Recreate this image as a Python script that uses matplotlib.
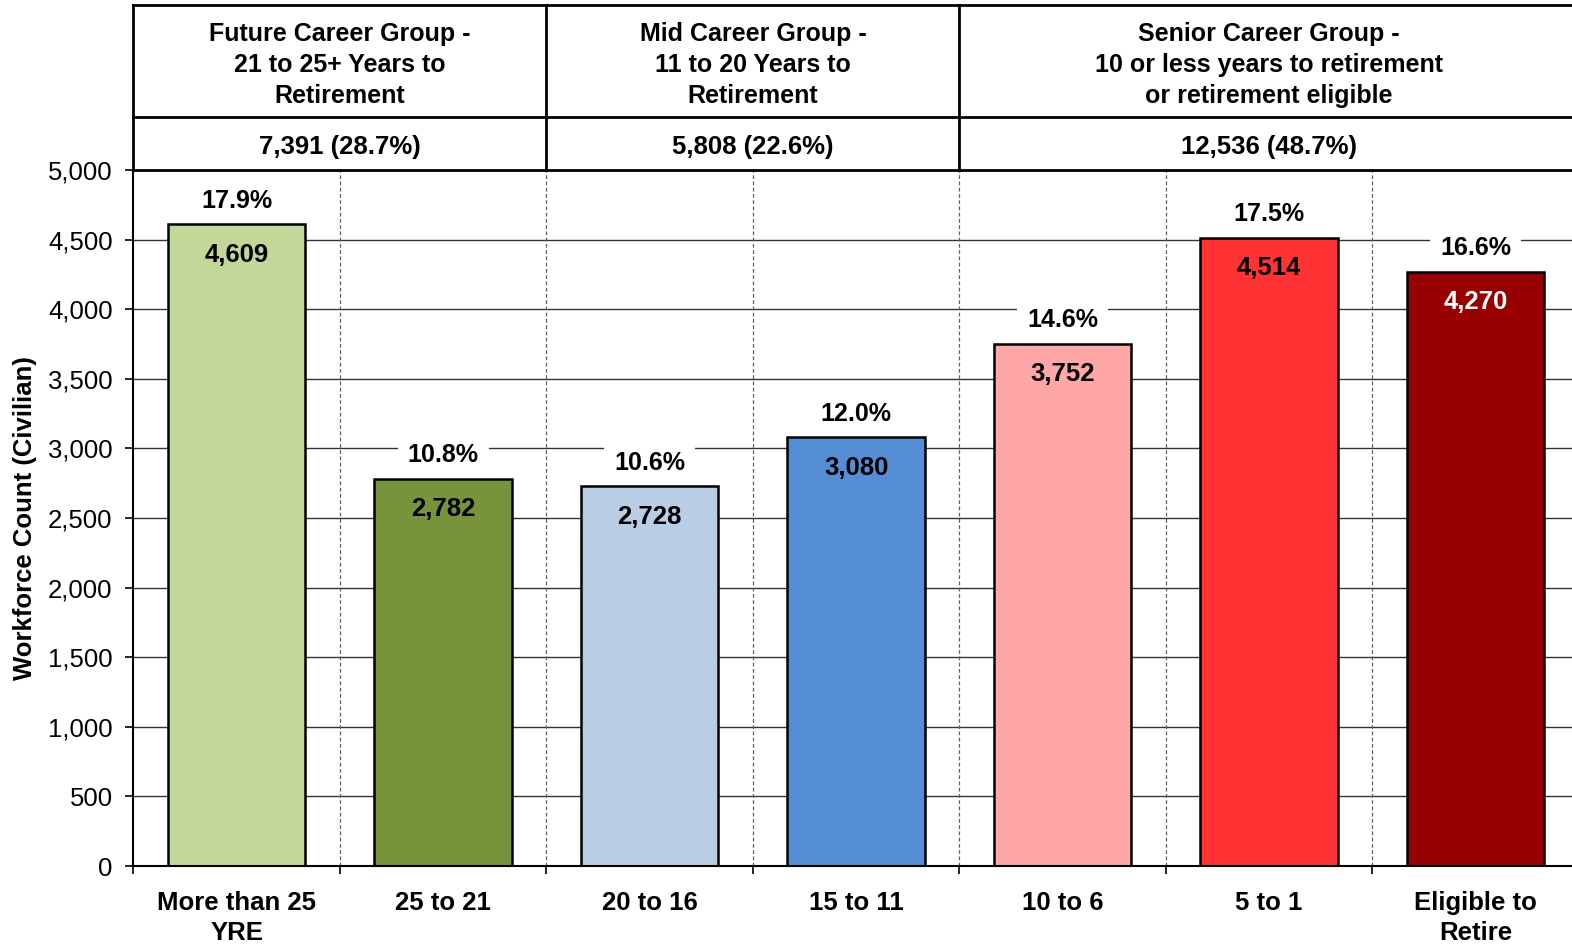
import matplotlib
matplotlib.use("Agg")
import matplotlib.pyplot as plt
import numpy as np

plt.rcParams['font.family'] = ['Liberation Sans', 'DejaVu Sans']

categories = ["More than 25\nYRE", "25 to 21", "20 to 16", "15 to 11",
              "10 to 6", "5 to 1", "Eligible to\nRetire"]
counts = [4609, 2782, 2728, 3080, 3752, 4514, 4270]
percents = [17.9, 10.8, 10.6, 12.0, 14.6, 17.5, 16.6]
bar_colors = ["#C4D79B", "#77933C", "#B9CDE5", "#558ED5",
              "#FFA7A7", "#FF3333", "#990000"]
value_text_colors = ["black", "black", "black", "black", "black", "black", "white"]

group_titles = ["Future Career Group -\n21 to 25+ Years to\nRetirement",
                "Mid Career Group -\n11 to 20 Years to\nRetirement",
                "Senior Career Group -\n10 or less years to retirement\nor retirement eligible"]
group_totals = ["7,391 (28.7%)", "5,808 (22.6%)", "12,536 (48.7%)"]
group_spans = [(0, 1), (2, 3), (4, 6)]

yticks = [0, 500, 1000, 1500, 2000, 2500, 3000, 3500, 4000, 4500, 5000]

W, H = 1572, 944
fig = plt.figure(figsize=(W / 100, H / 100), dpi=100)

left_px, right_px = 133.4, 1572
top_px, bottom_px = 170, 866
ax = fig.add_axes([left_px / W, 1 - bottom_px / H,
                   (right_px - left_px) / W, (bottom_px - top_px) / H])
slot = 206.5
xmax = -0.5 + (right_px - left_px) / slot

x = np.arange(len(categories))

# gridlines
for yv in yticks[1:]:
    ax.axhline(yv, color="#333333", lw=1.0, zorder=1)
# dashed slot boundaries
for b in np.arange(0.5, len(categories) - 0.5 + 0.01, 1.0):
    ax.axvline(b, color="#606060", lw=0.9, ls=(0, (3, 2)), zorder=1)

ax.bar(x, counts, width=0.665, color=bar_colors, edgecolor="black",
       linewidth=1.8, zorder=3)

for xi, c, p, tc in zip(x, counts, percents, value_text_colors):
    ax.annotate(f"{p:.1f}%", (xi, c), xytext=(0, 17), textcoords="offset points",
                ha="center", va="center", fontsize=18, fontweight="bold",
                bbox=dict(boxstyle="square,pad=0.4", fc="white", ec="none"),
                zorder=4)
    ax.annotate(f"{c:,}", (xi, c), xytext=(0, -22), textcoords="offset points",
                ha="center", va="center", fontsize=18.5, fontweight="bold",
                color=tc, zorder=5)

ax.set_yticks(yticks)
ax.set_yticklabels([f"{v:,}" for v in yticks], fontsize=18.5)
ax.set_xticks(x)
ax.set_xticklabels(categories, fontsize=18.5, fontweight="bold", linespacing=1.33)
ax.tick_params(axis="x", which="major", length=0, pad=18)
ax.set_xticks(np.arange(-0.5, len(categories) + 0.5, 1.0), minor=True)
ax.tick_params(axis="x", which="minor", length=6, width=1.2, direction="out")
ax.tick_params(axis="y", length=6, width=1.2, direction="out", pad=9)
ax.set_xlim(-0.5, xmax)
ax.set_ylim(0, 5000)
for s in ["top", "right"]:
    ax.spines[s].set_visible(False)
for s in ["left", "bottom"]:
    ax.spines[s].set_linewidth(1.5)
    ax.spines[s].set_zorder(6)
ax.set_ylabel("Workforce Count (Civilian)", fontsize=18.5, fontweight="bold", labelpad=8)

# header table
head_top_px = 5
axh = fig.add_axes([left_px / W, 1 - top_px / H,
                    (right_px - left_px) / W, (top_px - head_top_px) / H])
axh.set_xlim(-0.5, xmax)
axh.set_ylim(0, 1)
axh.axis("off")
row_y = (top_px - 117) / (top_px - head_top_px)
title_y = (top_px - 65) / (top_px - head_top_px)
total_y = (top_px - 147) / (top_px - head_top_px)
lw = 2.0
axh.plot([-0.5, xmax], [1, 1], color="black", lw=lw, clip_on=False)
axh.plot([-0.5, xmax], [row_y, row_y], color="black", lw=lw, clip_on=False)
axh.plot([-0.5, xmax], [0, 0], color="black", lw=lw, clip_on=False)
axh.plot([-0.5, -0.5], [0, 1], color="black", lw=lw, clip_on=False)
for (a, b), title, tot in zip(group_spans, group_titles, group_totals):
    cx = (a + b) / 2
    axh.text(cx, title_y, title, ha="center", va="center", fontsize=18,
             fontweight="bold", linespacing=1.36)
    axh.text(cx, total_y, tot, ha="center", va="center", fontsize=18.5,
             fontweight="bold")
    if b < len(categories) - 1:
        axh.plot([b + 0.5, b + 0.5], [0, 1], color="black", lw=lw, clip_on=False)

fig.savefig("out.png", dpi=100)
